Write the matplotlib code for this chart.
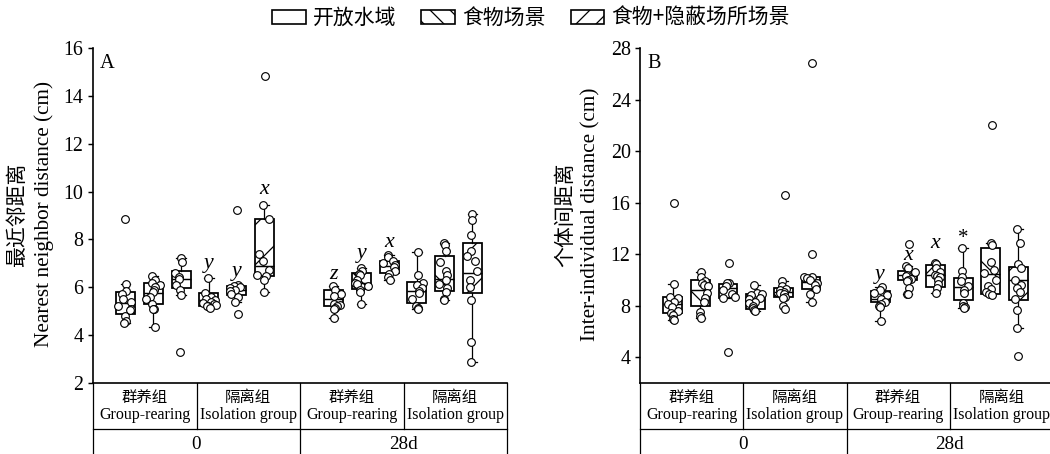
import numpy as np
import matplotlib
matplotlib.use("Agg")
import matplotlib.pyplot as plt
from matplotlib.patches import Patch

# ---------------- data ----------------
legend_labels = ["开放水域", "食物场景", "食物+隐蔽场所场景"]
scene_hatches = ["", "\\", "/"]
rearing_cn = ["群养组", "隔离组", "群养组", "隔离组"]
rearing_en = ["Group-rearing", "Isolation group", "Group-rearing", "Isolation group"]
time_labels = ["0", "28d"]

# Panel A: nearest neighbor distance (cm)
a_q1 = [4.90, 5.32, 5.96, 5.22, 5.68, 6.47, 5.20, 5.94, 6.61, 5.35, 5.85, 5.75]
a_med = [5.36, 5.78, 6.33, 5.46, 5.90, 6.90, 5.50, 6.19, 6.89, 5.85, 6.33, 6.60]
a_q3 = [5.79, 6.19, 6.68, 5.78, 6.06, 8.86, 5.87, 6.61, 7.10, 6.22, 7.30, 7.86]
a_wlo = [4.50, 4.35, 5.68, 5.15, 5.40, 5.80, 4.72, 5.32, 6.30, 5.10, 5.45, 2.88]
a_whi = [6.12, 6.48, 7.22, 6.40, 6.10, 9.42, 6.06, 6.82, 7.35, 7.48, 7.86, 9.06]
a_points = [
    [8.85, 6.12, 5.85, 5.70, 5.52, 5.40, 5.20, 5.10, 5.05, 4.80, 4.60, 4.50],
    [6.48, 6.30, 6.20, 6.10, 6.00, 5.90, 5.80, 5.60, 5.50, 5.30, 5.10, 5.10, 4.35],
    [7.22, 7.05, 6.60, 6.45, 6.35, 6.10, 5.90, 5.68, 3.30],
    [6.40, 5.75, 5.60, 5.50, 5.45, 5.40, 5.35, 5.30, 5.25, 5.20, 5.20, 5.15],
    [9.25, 6.10, 6.05, 6.00, 5.95, 5.90, 5.85, 5.70, 5.60, 5.40, 4.87],
    [14.83, 9.42, 8.86, 7.40, 7.10, 6.74, 6.53, 6.47, 6.29, 5.80],
    [6.06, 5.90, 5.70, 5.65, 5.30, 5.25, 5.20, 5.15, 5.10, 4.72],
    [6.82, 6.70, 6.55, 6.50, 6.30, 6.20, 6.15, 6.05, 5.90, 5.80, 5.32],
    [7.35, 7.25, 7.10, 7.00, 6.95, 6.85, 6.70, 6.55, 6.45, 6.30],
    [7.48, 6.50, 6.20, 6.10, 5.95, 5.85, 5.75, 5.50, 5.20, 5.15, 5.10],
    [7.86, 7.75, 7.50, 7.05, 6.70, 6.50, 6.30, 6.15, 5.95, 5.80, 5.50, 5.45],
    [9.06, 8.80, 8.20, 7.50, 7.30, 7.10, 6.70, 6.30, 6.00, 5.45, 3.70, 2.88],
]
a_letters = ["", "", "", "y", "y", "x", "z", "y", "x", "", "", ""]
a_letter_y = [0, 0, 0, 6.80, 6.46, 9.88, 6.33, 7.22, 7.67, 0, 0, 0]

# Panel B: inter-individual distance (cm)
b_q1 = [7.40, 7.96, 8.58, 7.75, 8.66, 9.30, 8.27, 9.96, 9.44, 8.45, 8.92, 8.45]
b_med = [8.10, 9.18, 9.40, 8.53, 9.05, 9.83, 8.50, 10.35, 10.35, 9.44, 10.47, 9.96]
b_q3 = [8.70, 10.00, 9.65, 8.92, 9.36, 10.20, 9.12, 10.73, 11.12, 10.16, 12.49, 11.04]
b_wlo = [6.90, 7.05, 8.60, 7.60, 8.60, 8.25, 6.85, 8.90, 9.00, 7.80, 8.80, 6.25]
b_whi = [9.65, 10.65, 9.80, 9.57, 9.90, 10.25, 9.45, 11.10, 11.30, 12.49, 12.85, 13.96]
b_points = [
    [16.0, 9.65, 8.70, 8.60, 8.30, 8.10, 7.90, 7.60, 7.40, 7.30, 7.00, 6.90],
    [10.65, 10.20, 9.90, 9.80, 9.60, 9.50, 9.00, 8.60, 8.30, 7.50, 7.20, 7.05],
    [11.30, 9.80, 9.75, 9.50, 9.20, 8.90, 8.70, 8.60, 4.44],
    [9.57, 9.00, 8.90, 8.80, 8.60, 8.50, 8.30, 8.20, 8.00, 7.80, 7.70, 7.60],
    [16.58, 9.90, 9.50, 9.30, 9.20, 9.10, 9.00, 8.90, 8.70, 8.60, 7.96, 7.75],
    [26.8, 11.98, 10.25, 10.20, 10.15, 10.00, 9.80, 9.60, 9.30, 8.90, 8.25],
    [9.45, 9.20, 9.00, 8.80, 8.50, 8.30, 8.10, 8.00, 7.90, 6.85],
    [12.80, 11.10, 10.90, 10.60, 10.40, 10.30, 10.10, 10.00, 9.90, 9.40, 8.92, 8.90],
    [11.30, 11.20, 10.90, 10.60, 10.40, 10.30, 10.20, 10.00, 9.70, 9.40, 9.00],
    [12.49, 10.70, 10.20, 9.90, 9.50, 9.20, 9.00, 8.20, 8.00, 7.90, 7.80],
    [22.0, 12.85, 12.70, 11.40, 10.80, 10.50, 10.00, 9.50, 9.30, 9.10, 8.90, 8.80],
    [13.96, 12.85, 11.20, 10.90, 10.00, 9.60, 9.40, 9.10, 8.50, 7.70, 6.25, 4.13],
]
b_letters = ["", "", "", "", "", "", "y", "x", "x", "*", "", ""]
b_letter_y = [0, 0, 0, 0, 0, 0, 10.08, 11.53, 12.47, 13.24, 0, 0]

# ---------------- style ----------------
W, H, DPI = 1050, 454, 120
S = 150 / DPI  # sizes below were tuned in points for 150 dpi

plt.rcParams["font.family"] = ["Liberation Serif", "Noto Sans CJK SC"]
plt.rcParams["hatch.linewidth"] = 0.75
plt.rcParams["hatch.color"] = "black"

fig = plt.figure(figsize=(W / DPI, H / DPI), dpi=DPI)

positions = [0, 1, 2, 3, 4, 5, 7.5, 8.5, 9.5, 10.5, 11.5, 12.5]
rng = np.random.default_rng(7)


def px_rect(l, r, t, b):
    return [l / W, 1 - b / H, (r - l) / W, (b - t) / H]


def draw_panel(rect, q1, med, q3, wlo, whi, pts, letters, letter_y,
               ylim, yticks, ylab_cn, ylab_en, panel, ylab_x):
    ax = fig.add_axes(rect)
    stats = []
    for i in range(len(q1)):
        stats.append(dict(q1=q1[i], med=med[i], q3=q3[i], whislo=wlo[i],
                          whishi=whi[i], fliers=[]))
    bp = ax.bxp(stats, positions=positions, widths=0.68, capwidths=0.34,
                patch_artist=True, showfliers=False,
                boxprops=dict(facecolor="white", edgecolor="black", linewidth=0.85 * S),
                medianprops=dict(color="black", linewidth=0.7 * S),
                whiskerprops=dict(color="black", linewidth=0.6 * S),
                capprops=dict(color="black", linewidth=0.6 * S),
                manage_ticks=False)
    for i, box in enumerate(bp["boxes"]):
        box.set_hatch(scene_hatches[i % 3])
        box.set_zorder(2)
    for i, vals in enumerate(pts):
        vals = np.asarray(vals)
        inside = (vals >= q1[i]) & (vals <= q3[i])
        jit = np.where(inside, rng.uniform(-0.27, 0.27, len(vals)),
                       rng.uniform(-0.06, 0.06, len(vals)))
        ax.plot(positions[i] + jit, vals, "o", ms=3.7 * S, mfc="white", mec="black",
                mew=0.55 * S, zorder=4, clip_on=False)
    for i, t in enumerate(letters):
        if t:
            if t == "*":
                ax.text(positions[i], letter_y[i], t, ha="center", va="center",
                        fontsize=10 * S, family="Liberation Serif")
            else:
                ax.text(positions[i], letter_y[i], t, ha="center", va="baseline",
                        fontsize=10.5 * S, style="italic", family="Liberation Serif")
    ax.set_xlim(-1.18, 13.75)
    ax.set_ylim(*ylim)
    ax.set_yticks(yticks)
    ax.tick_params(axis="y", direction="out", length=2.5 * S, width=0.7 * S,
                   labelsize=9.6 * S, pad=2 * S)
    ax.set_xticks([])
    for s in ["top", "right"]:
        ax.spines[s].set_visible(False)
    ax.spines["left"].set_linewidth(0.8 * S)
    ax.spines["bottom"].set_linewidth(0.8 * S)
    ax.text(0.017, 0.94, panel, transform=ax.transAxes, fontsize=9.8 * S,
            va="baseline", ha="left")

    # table under the axis
    tr = ax.transAxes
    y_row = -0.137
    y_end = -0.30
    kw = dict(transform=tr, clip_on=False, color="black", lw=0.6 * S)
    ax.plot([0, 1], [y_row, y_row], **kw)
    for x in [0, 0.5, 1]:
        ax.plot([x, x], [0, y_end], **kw)
    for x in [0.25, 0.75]:
        ax.plot([x, x], [0, y_row], **kw)
    for j in range(4):
        xc = 0.125 + 0.25 * j
        ax.text(xc, -0.042, rearing_cn[j], transform=tr, ha="center", va="center",
                fontsize=7.4 * S, family="Noto Sans CJK SC")
        ax.text(xc, -0.096, rearing_en[j], transform=tr, ha="center", va="center",
                fontsize=7.7 * S)
    for j in range(2):
        ax.text(0.25 + 0.5 * j, -0.183, time_labels[j], transform=tr,
                ha="center", va="center", fontsize=9.2 * S)

    # y labels
    fig.text(ylab_x[0] / W, 1 - 215 / H, ylab_cn, rotation=90, ha="center",
             va="center", fontsize=10 * S, family="Noto Sans CJK SC")
    fig.text(ylab_x[1] / W, 1 - 214 / H, ylab_en, rotation=90, ha="center",
             va="center", fontsize=10.2 * S)
    return ax


axA = draw_panel(px_rect(93, 507, 48, 383), a_q1, a_med, a_q3, a_wlo, a_whi,
                 a_points, a_letters, a_letter_y, (2, 16), range(2, 17, 2),
                 "最近邻距离", "Nearest neighbor distance (cm)", "A", (17, 44))
axB = draw_panel(px_rect(640, 1053, 48, 383), b_q1, b_med, b_q3, b_wlo, b_whi,
                 b_points, b_letters, b_letter_y, (2, 28), range(4, 29, 4),
                 "个体间距离", "Inter-individual distance (cm)", "B", (565, 591))

handles = [Patch(facecolor="white", edgecolor="black", hatch=h, linewidth=0.8 * S)
           for h in ["", "\\\\", "//"]]
fig.legend(handles, legend_labels, loc="center", ncol=3,
           bbox_to_anchor=(531 / W, 1 - 18 / H), frameon=False,
           prop={"family": "Noto Sans CJK SC", "size": 10 * S},
           handlelength=1.6, handleheight=0.65, handletextpad=0.35,
           columnspacing=1.2, borderpad=0)

fig.savefig("out.png", dpi=DPI)
